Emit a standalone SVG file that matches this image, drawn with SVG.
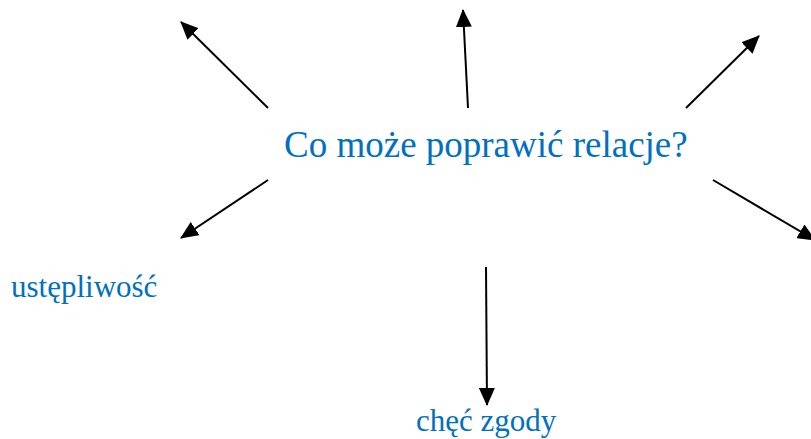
<svg xmlns="http://www.w3.org/2000/svg" width="811" height="439" viewBox="0 0 811 439">
<style>
.lbl{font-family:"Liberation Serif","Times New Roman",serif;fill:#0070C0}
.c{stroke:#000;stroke-width:2;fill:none;marker-end:url(#ah)}
</style>
<defs>
<marker id="ah" markerUnits="userSpaceOnUse" markerWidth="18" markerHeight="16" viewBox="0 0 18 16" refX="17" refY="8" orient="auto">
<path d="M0,0 L18,8 L0,16 Z" fill="#000"/>
</marker>
</defs>
<rect width="811" height="439" fill="#fff"/>
<g id="center"><text class="lbl" x="284" y="157" font-size="37">Co może poprawić relacje?</text></g>
<g id="n-ustepliwosc"><text class="lbl" x="11" y="297" font-size="31">ustępliwość</text></g>
<g id="n-chec"><text class="lbl" x="416" y="431" font-size="31">chęć zgody</text></g>
<g id="connectors">
<line class="c" x1="268" y1="108" x2="181" y2="22"/>
<line class="c" x1="468" y1="108" x2="463" y2="10"/>
<line class="c" x1="686" y1="108" x2="759" y2="36"/>
<line class="c" x1="268" y1="180" x2="181" y2="238"/>
<line class="c" x1="713" y1="180" x2="815" y2="240"/>
<line class="c" x1="486" y1="267" x2="487" y2="405"/>
</g>
</svg>
